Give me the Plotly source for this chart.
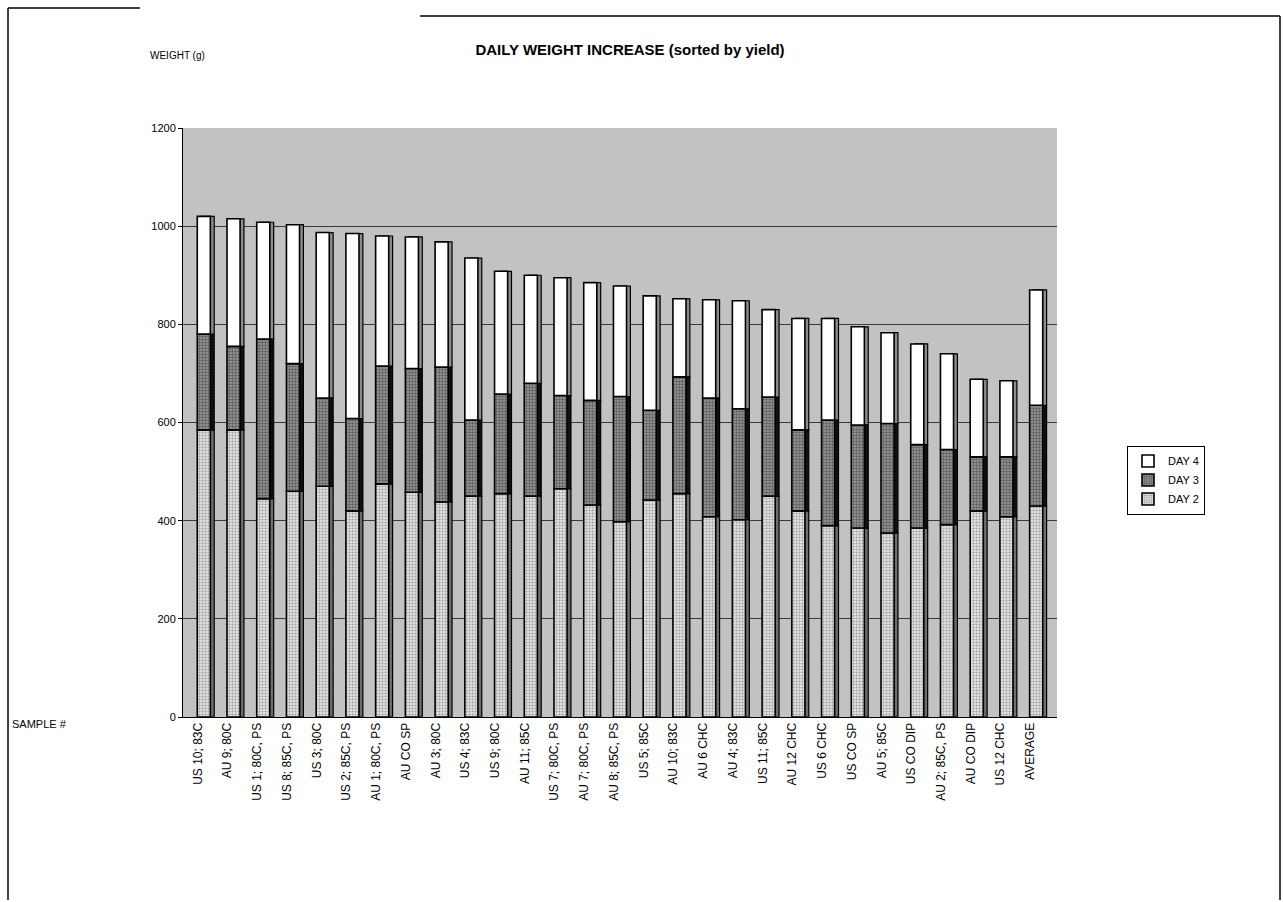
import plotly.graph_objects as go

samples = [
    "US 10; 83C", "AU 9; 80C", "US 1; 80C, PS", "US 8; 85C, PS", "US 3; 80C",
    "US 2; 85C, PS", "AU 1; 80C, PS", "AU CO SP", "AU 3; 80C", "US 4; 83C",
    "US 9; 80C", "AU 11; 85C", "US 7; 80C, PS", "AU 7; 80C, PS", "AU 8; 85C, PS",
    "US 5; 85C", "AU 10; 83C", "AU 6 CHC", "AU 4; 83C", "US 11; 85C",
    "AU 12 CHC", "US 6 CHC", "US CO SP", "AU 5; 85C", "US CO DIP",
    "AU 2; 85C, PS", "AU CO DIP", "US 12 CHC", "AVERAGE",
]

# weight gained on each day (g)
day2 = [585, 585, 445, 460, 470, 420, 475, 458, 438, 450,
        455, 450, 465, 432, 398, 442, 455, 408, 402, 450,
        420, 390, 385, 375, 385, 392, 420, 408, 430]
day3 = [195, 170, 325, 260, 180, 188, 240, 252, 275, 155,
        203, 230, 190, 213, 255, 183, 238, 242, 226, 202,
        165, 215, 210, 223, 170, 153, 110, 122, 205]
day4 = [240, 260, 238, 283, 337, 377, 265, 268, 255, 330,
        250, 220, 240, 240, 225, 233, 159, 200, 220, 178,
        227, 207, 200, 185, 205, 195, 158, 155, 235]

y_ticks = [0, 200, 400, 600, 800, 1000, 1200]

font_main = "Liberation Sans, Arial, sans-serif"

# stacking bases for each day
base3 = [a for a in day2]
base4 = [a + b for a, b in zip(day2, day3)]

BAR_W = 0.44
FRONT_OFF = -0.02
SIDE_OFF = FRONT_OFF + 0.13

# plot area in pixels
PL, PR, PT, PB = 183, 1057, 128, 717
PW, PH = PR - PL, PB - PT


def px(xp):
    return (xp - PL) / PW


def py(yp):
    return (PB - yp) / PH


fig = go.Figure()

# dark side faces give the columns their depth
side_style = [("#6e6e6e", day2, None), ("#111111", day3, base3), ("#8c8c8c", day4, base4)]
for color, vals, base in side_style:
    fig.add_trace(go.Bar(
        x=samples, y=vals, base=base, width=BAR_W, offset=SIDE_OFF,
        marker=dict(color=color, line=dict(color="black", width=1.2)),
        showlegend=False, hoverinfo="skip",
    ))

fig.add_trace(go.Bar(
    name="DAY 2", x=samples, y=day2, width=BAR_W, offset=FRONT_OFF,
    marker=dict(color="#d4d4d4", line=dict(color="black", width=1.6),
                pattern=dict(shape=".", fgcolor="#555555", bgcolor="#e0e0e0",
                             size=3, solidity=0.35)),
))
fig.add_trace(go.Bar(
    name="DAY 3", x=samples, y=day3, base=base3, width=BAR_W, offset=FRONT_OFF,
    marker=dict(color="#7a7a7a", line=dict(color="black", width=1.6),
                pattern=dict(shape=".", fgcolor="#222222", bgcolor="#9a9a9a",
                             size=3, solidity=0.5)),
))
fig.add_trace(go.Bar(
    name="DAY 4", x=samples, y=day4, base=base4, width=BAR_W, offset=FRONT_OFF,
    marker=dict(color="white", line=dict(color="black", width=1.6)),
))

# page border lines
border = dict(type="line", xref="paper", yref="paper", line=dict(color="black", width=1.5))
fig.update_layout(shapes=[
    dict(border, x0=px(8), x1=px(8), y0=py(900), y1=py(8)),
    dict(border, x0=px(8), x1=px(140), y0=py(8), y1=py(8)),
    dict(border, x0=px(420), x1=px(1280), y0=py(16), y1=py(16)),
    dict(border, x0=px(1280), x1=px(1280), y0=py(900), y1=py(16)),
])

fig.update_layout(
    width=1283, height=902,
    margin=dict(l=PL, r=1283 - PR, t=PT, b=902 - PB),
    barmode="overlay",
    paper_bgcolor="white", plot_bgcolor="#c2c2c2",
    font=dict(family=font_main, color="black", size=12),
    title=dict(text="<b>DAILY WEIGHT INCREASE (sorted by yield)</b>",
               x=630 / 1283, xanchor="center", y=1 - 50 / 902, yanchor="middle",
               font=dict(size=15, family=font_main)),
    xaxis=dict(tickangle=-90, showgrid=False, showline=True, linecolor="black",
               linewidth=1, ticks="", tickfont=dict(size=12), mirror=False,
               range=[-0.5, len(samples) - 0.1]),
    yaxis=dict(range=[0, 1200], tickvals=y_ticks, showgrid=True, gridcolor="#3a3a3a",
               gridwidth=1, showline=True, linecolor="black", linewidth=1,
               ticks="outside", ticklen=4, tickcolor="black", tickfont=dict(size=11),
               zeroline=False),
    legend=dict(x=px(1127), y=py(480), xanchor="left", yanchor="middle",
                traceorder="reversed", bordercolor="black", borderwidth=1,
                bgcolor="white", font=dict(size=11), itemwidth=30),
    annotations=[
        dict(text="WEIGHT (g)", xref="paper", yref="paper",
             x=px(148), y=py(55), xanchor="left", yanchor="middle",
             showarrow=False, font=dict(size=10)),
        dict(text="SAMPLE #", xref="paper", yref="paper",
             x=px(10), y=py(724), xanchor="left", yanchor="middle",
             showarrow=False, font=dict(size=11)),
    ],
)

fig.write_html("out.html")
